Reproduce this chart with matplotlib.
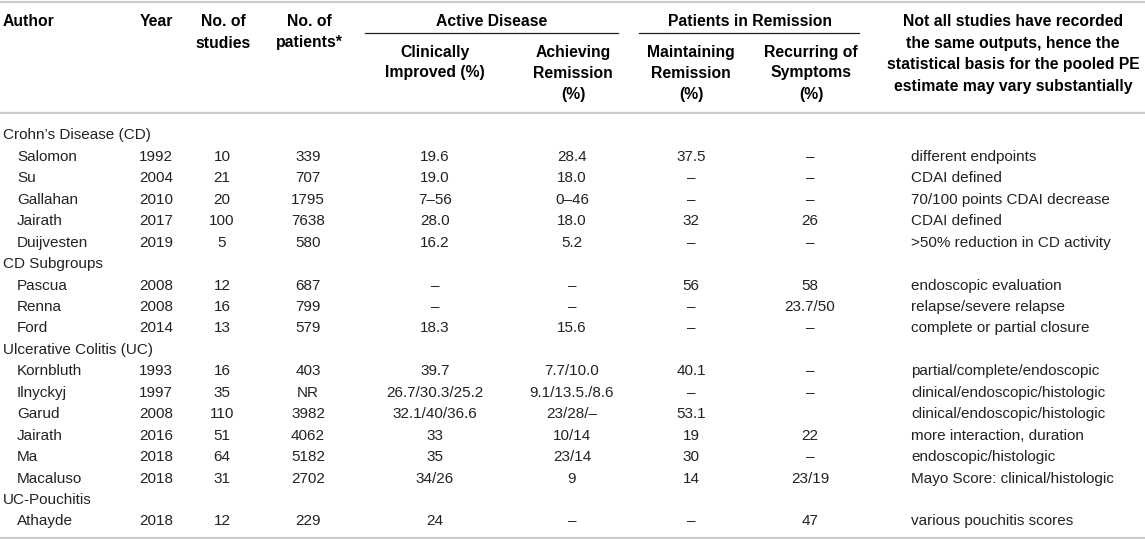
import matplotlib
matplotlib.use("Agg")
import matplotlib.pyplot as plt

plt.rcParams['font.family'] = ['Liberation Sans', 'DejaVu Sans']

# table content
groups = ["Crohn\u2019s Disease (CD)", "CD Subgroups", "Ulcerative Colitis (UC)", "UC-Pouchitis"]
group_of_row = [0, 0, 0, 0, 0, 1, 1, 1, 2, 2, 2, 2, 2, 2, 3]
authors = ["Salomon", "Su", "Gallahan", "Jairath", "Duijvesten",
           "Pascua", "Renna", "Ford",
           "Kornbluth", "Ilnyckyj", "Garud", "Jairath", "Ma", "Macaluso",
           "Athayde"]
years = ["1992", "2004", "2010", "2017", "2019",
         "2008", "2008", "2014",
         "1993", "1997", "2008", "2016", "2018", "2018",
         "2018"]
n_studies = ["10", "21", "20", "100", "5",
             "12", "16", "13",
             "16", "35", "110", "51", "64", "31",
             "12"]
n_patients = ["339", "707", "1795", "7638", "580",
              "687", "799", "579",
              "403", "NR", "3982", "4062", "5182", "2702",
              "229"]
clin_improved = ["19.6", "19.0", "7\u201356", "28.0", "16.2",
                 "\u2013", "\u2013", "18.3",
                 "39.7", "26.7/30.3/25.2", "32.1/40/36.6", "33", "35", "34/26",
                 "24"]
achieving = ["28.4", "18.0", "0\u201346", "18.0", "5.2",
             "\u2013", "\u2013", "15.6",
             "7.7/10.0", "9.1/13.5./8.6", "23/28/\u2013", "10/14", "23/14", "9",
             "\u2013"]
maintaining = ["37.5", "\u2013", "\u2013", "32", "\u2013",
               "56", "\u2013", "\u2013",
               "40.1", "\u2013", "53.1", "19", "30", "14",
               "\u2013"]
recurring = ["\u2013", "\u2013", "\u2013", "26", "\u2013",
             "58", "23.7/50", "\u2013",
             "\u2013", "\u2013", "", "22", "\u2013", "23/19",
             "47"]
notes = ["different endpoints", "CDAI defined", "70/100 points CDAI decrease",
         "CDAI defined", ">50% reduction in CD activity",
         "endoscopic evaluation", "relapse/severe relapse", "complete or partial closure",
         "partial/complete/endoscopic", "clinical/endoscopic/histologic",
         "clinical/endoscopic/histologic", "more interaction, duration",
         "endoscopic/histologic", "Mayo Score: clinical/histologic",
         "various pouchitis scores"]

W, H = 1145, 539
fig = plt.figure(figsize=(W / 100, H / 100), dpi=100)
ax = fig.add_axes([0, 0, 1, 1])
ax.set_xlim(0, W)
ax.set_ylim(H, 0)
ax.axis('off')

fs = 11
hfs = 11.3
txt_col = '#222222'
rule_col = '#cccccc'
half_cap = 5.5   # baseline offset from the visual centre of a line


def put(x, y, s, ha='center', bold=False):
    ax.text(x, y + half_cap, s, ha=ha, va='baseline',
            fontsize=hfs if bold else fs,
            fontweight='bold' if bold else 'normal',
            color='black' if bold else txt_col)


# rules
ax.plot([0, W], [1.5, 1.5], color=rule_col, lw=1.6, solid_capstyle='butt')
ax.plot([0, W], [113, 113], color=rule_col, lw=1.6, solid_capstyle='butt')
ax.plot([0, W], [537.5, 537.5], color=rule_col, lw=1.6, solid_capstyle='butt')
ax.plot([365, 618], [33, 33], color='#222222', lw=0.9)
ax.plot([639, 859], [33, 33], color='#222222', lw=0.9)

# header
put(3, 20, "Author", ha='left', bold=True)
put(156, 20, "Year", bold=True)
put(223, 20, "No. of", bold=True)
put(223, 42, "studies", bold=True)
put(309, 20, "No. of", bold=True)
put(309, 42, "patients*", bold=True)
put(492, 20, "Active Disease", bold=True)
put(750, 20, "Patients in Remission", bold=True)
put(435, 51, "Clinically", bold=True)
put(435, 72, "Improved (%)", bold=True)
put(573, 51, "Achieving", bold=True)
put(573, 72, "Remission", bold=True)
put(573, 94, "(%)", bold=True)
put(691, 51, "Maintaining", bold=True)
put(691, 72, "Remission", bold=True)
put(691, 94, "(%)", bold=True)
put(811, 51, "Recurring of", bold=True)
put(811, 72, "Symptoms", bold=True)
put(811, 94, "(%)", bold=True)
for j, line in enumerate(["Not all studies have recorded", "the same outputs, hence the",
                          "statistical basis for the pooled PE",
                          "estimate may vary substantially"]):
    put(1013, 21 + 21.5 * j, line, bold=True)

# body
y0, dy = 134, 21.44
row = 0
last_group = None
for i in range(len(authors)):
    g = group_of_row[i]
    if g != last_group:
        put(3, y0 + dy * row, groups[g], ha='left')
        row += 1
        last_group = g
    y = y0 + dy * row
    put(17, y, authors[i], ha='left')
    put(156, y, years[i])
    put(222, y, n_studies[i])
    put(308, y, n_patients[i])
    put(435, y, clin_improved[i])
    put(572, y, achieving[i])
    put(691, y, maintaining[i])
    put(810, y, recurring[i])
    put(911, y, notes[i], ha='left')
    row += 1

fig.savefig("out.png", dpi=100)
